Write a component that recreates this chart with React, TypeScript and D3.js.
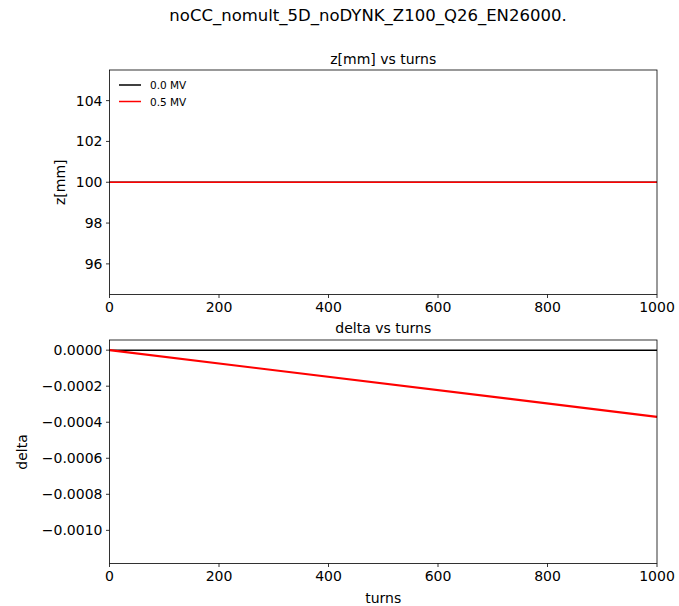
import React from "react";
import * as d3 from "d3";

const turns = [0, 1000];
const zBlack = [100, 100];
const zRed = [100, 100];
const deltaBlack = [0, 0];
const deltaRed = [0, -0.00037];
const xTicks = [0, 200, 400, 600, 800, 1000];
const zTicks = [96, 98, 100, 102, 104];
const dTicks = [0, -0.0002, -0.0004, -0.0006, -0.0008, -0.001];
const legendLabels = ["0.0 MV", "0.5 MV"];
const colors = ["#000000", "#ff0000"];

const W = 679, H = 606;
const L = 109.5, R = 657;
const font = "DejaVu Sans, sans-serif";

function fmtDelta(v: number) {
  const s = Math.abs(v).toFixed(4);
  return v < 0 ? "\u2212" + s : s;
}

export default function App() {
  const x = d3.scaleLinear().domain([0, 1000]).range([L, R]);
  const yTop = d3.scaleLinear().domain([94.5, 105.5]).range([294.5, 70]);
  const yBot = d3.scaleLinear().domain([-0.001184, 0.0000564]).range([563.5, 340]);

  const lineTop = d3.line<number>().x((_, i) => x(turns[i])).y((d) => yTop(d));
  const lineBot = d3.line<number>().x((_, i) => x(turns[i])).y((d) => yBot(d));

  const xAxis = (top: number, bottom: number) => (
    <g>
      {xTicks.map((t) => (
        <g key={t}>
          <line x1={x(t)} x2={x(t)} y1={bottom} y2={bottom + 3.5} stroke="#000" strokeWidth={0.8} />
          <text x={x(t)} y={bottom + 17.5} textAnchor="middle" fontSize={14} fontFamily={font}>{t}</text>
        </g>
      ))}
    </g>
  );

  return (
    <svg width={W} height={H} style={{ position: "absolute", left: 0, top: 0, background: "#fff" }}>
      <rect width={W} height={H} fill="#fff" />
      <text x={368} y={21} textAnchor="middle" fontSize={16.5} fontFamily={font}>noCC_nomult_5D_noDYNK_Z100_Q26_EN26000.</text>

      {/* top axes */}
      <text x={(L + R) / 2} y={64} textAnchor="middle" fontSize={14} fontFamily={font}>z[mm] vs turns</text>
      <path d={lineTop(zBlack) || ""} fill="none" stroke={colors[0]} strokeWidth={1.5} />
      <path d={lineTop(zRed) || ""} fill="none" stroke={colors[1]} strokeWidth={1.5} />
      <rect x={L} y={70} width={R - L} height={294.5 - 70} fill="none" stroke="#000" strokeWidth={0.8} />
      {zTicks.map((t) => (
        <g key={t}>
          <line x1={L - 3.5} x2={L} y1={yTop(t)} y2={yTop(t)} stroke="#000" strokeWidth={0.8} />
          <text x={L - 7} y={yTop(t) + 5} textAnchor="end" fontSize={14} fontFamily={font}>{t}</text>
        </g>
      ))}
      {xAxis(70, 294.5)}
      <text transform={`translate(65,${yTop(100)}) rotate(-90)`} textAnchor="middle" fontSize={14} fontFamily={font}>z[mm]</text>
      {legendLabels.map((lab, i) => (
        <g key={lab}>
          <line x1={119} x2={141} y1={85 + i * 16.5} y2={85 + i * 16.5} stroke={colors[i]} strokeWidth={1.5} />
          <text x={150} y={89 + i * 16.5} fontSize={10.5} fontFamily={font}>{lab}</text>
        </g>
      ))}

      {/* bottom axes */}
      <text x={(L + R) / 2} y={333} textAnchor="middle" fontSize={14} fontFamily={font}>delta vs turns</text>
      <path d={lineBot(deltaBlack) || ""} fill="none" stroke={colors[0]} strokeWidth={1.5} />
      <path d={lineBot(deltaRed) || ""} fill="none" stroke={colors[1]} strokeWidth={2.2} />
      <rect x={L} y={340} width={R - L} height={563.5 - 340} fill="none" stroke="#000" strokeWidth={0.8} />
      {dTicks.map((t) => (
        <g key={t}>
          <line x1={L - 3.5} x2={L} y1={yBot(t)} y2={yBot(t)} stroke="#000" strokeWidth={0.8} />
          <text x={L - 7} y={yBot(t) + 5} textAnchor="end" fontSize={14} fontFamily={font}>{fmtDelta(t)}</text>
        </g>
      ))}
      {xAxis(340, 563.5)}
      <text transform={`translate(27,452) rotate(-90)`} textAnchor="middle" fontSize={14} fontFamily={font}>delta</text>
      <text x={(L + R) / 2} y={603} textAnchor="middle" fontSize={14} fontFamily={font}>turns</text>
    </svg>
  );
}
